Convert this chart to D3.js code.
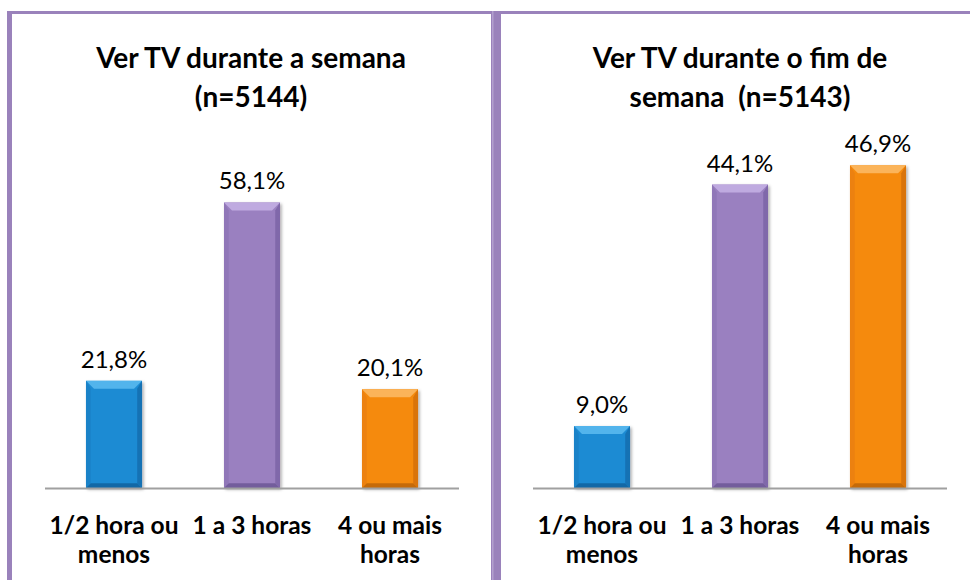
<!DOCTYPE html>
<html>
<head>
<meta charset="utf-8">
<script src="https://cdn.jsdelivr.net/npm/d3@7"></script>
<style>
  html, body { margin: 0; padding: 0; background: #ffffff; }
  svg { display: block; }
  text { white-space: pre; }
</style>
</head>
<body>
<svg id="chart" width="970" height="580"></svg>
<script>
// ---- data ----
const categories = ["1/2 hora ou menos", "1 a 3 horas", "4 ou mais horas"];
const categoryLines = [["1/2 hora ou", "menos"], ["1 a 3 horas"], ["4 ou mais", "horas"]];
const weekValues = [21.8, 58.1, 20.1];
const weekendValues = [9.0, 44.1, 46.9];
const weekTitle = ["Ver TV durante a semana", "(n=5144)"];
const weekendTitle = ["Ver TV durante o fim de", "semana  (n=5143)"];
const weekDomainMax = 70;
const weekendDomainMax = 50;

// ---- styles ----
const barColors = [
  { base: "#1b8bd3", top: "#52b4ec", left: "#1a82c8", right: "#1572b4", bottom: "#1268a6" },
  { base: "#9a80c0", top: "#bfaae0", left: "#9077b8", right: "#8068aa", bottom: "#735d9c" },
  { base: "#f58a10", top: "#fbb45a", left: "#ec8110", right: "#d9740b", bottom: "#c56a08" }
];
const borderColor = "#9a82bb";
const font = "Lato, 'Open Sans', sans-serif";

const svg = d3.select("#chart");

// drop shadow filter
const defs = svg.append("defs");
const f = defs.append("filter").attr("id", "shadow").attr("x", "-20%").attr("y", "-20%").attr("width", "140%").attr("height", "140%");
f.append("feDropShadow").attr("dx", 1.5).attr("dy", 1.5).attr("stdDeviation", 1.5).attr("flood-color", "#000").attr("flood-opacity", 0.35);

// ---- panel borders ----
const borders = svg.append("g");
borders.append("rect").attr("x", 7).attr("y", 11).attr("width", 963).attr("height", 3).attr("fill", borderColor);
borders.append("rect").attr("x", 7).attr("y", 11).attr("width", 5).attr("height", 569).attr("fill", borderColor);
borders.append("rect").attr("x", 491).attr("y", 11).attr("width", 10).attr("height", 569).attr("fill", borderColor);
borders.append("rect").attr("x", 492).attr("y", 11).attr("width", 1.5).attr("height", 569).attr("fill", "#b3a0cf");

const panels = [
  { title: weekTitle, values: weekValues, max: weekDomainMax, x0: 45, x1: 459, cx: 251 },
  { title: weekendTitle, values: weekendValues, max: weekendDomainMax, x0: 533, x1: 947, cx: 740 }
];

const plotBottom = 488, plotTop = 144;
const bevel = 8;

panels.forEach(p => {
  const g = svg.append("g");
  const x = d3.scaleBand().domain(categories).range([p.x0, p.x1]).paddingInner(0.594).paddingOuter(0.297);
  const y = d3.scaleLinear().domain([0, p.max]).range([plotBottom, plotTop]);

  // title
  g.selectAll("text.title").data(p.title).join("text")
    .attr("class", "title")
    .attr("x", p.cx)
    .attr("y", (d, i) => 68 + i * 39)
    .attr("text-anchor", "middle")
    .attr("font-family", font)
    .attr("font-weight", "bold")
    .attr("font-size", 28)
    .attr("fill", "#000")
    .text(d => d);

  // bars
  const data = categories.map((c, i) => ({ c, v: p.values[i], i }));
  const bars = g.selectAll("g.bar").data(data).join("g").attr("class", "bar");
  bars.each(function(d) {
    const b = d3.select(this);
    const xl = x(d.c), xr = x(d.c) + x.bandwidth();
    const yt = y(d.v), yb = y(0);
    const col = barColors[d.i];
    b.append("rect").attr("x", xl).attr("y", yt).attr("width", xr - xl).attr("height", yb - yt)
      .attr("fill", col.base).attr("filter", "url(#shadow)");
    const poly = pts => b.append("polygon").attr("points", pts.map(q => q.join(",")).join(" "));
    poly([[xl, yt], [xr, yt], [xr - bevel, yt + bevel], [xl + bevel, yt + bevel]]).attr("fill", col.top);
    poly([[xl, yt], [xl + bevel * 0.6, yt + bevel], [xl + bevel * 0.6, yb - bevel * 0.6], [xl, yb]]).attr("fill", col.left);
    poly([[xr, yt], [xr - bevel * 0.6, yt + bevel], [xr - bevel * 0.6, yb - bevel * 0.6], [xr, yb]]).attr("fill", col.right);
    poly([[xl, yb], [xl + bevel * 0.6, yb - bevel * 0.6], [xr - bevel * 0.6, yb - bevel * 0.6], [xr, yb]]).attr("fill", col.bottom);
  });

  // value labels
  g.selectAll("text.val").data(data).join("text")
    .attr("class", "val")
    .attr("x", d => x(d.c) + x.bandwidth() / 2)
    .attr("y", d => y(d.v) - 13)
    .attr("text-anchor", "middle")
    .attr("font-family", font)
    .attr("font-size", 24)
    .attr("fill", "#000")
    .text(d => d.v.toFixed(1).replace(".", ",") + "%");

  // axis line
  g.append("line").attr("x1", p.x0).attr("x2", p.x1).attr("y1", plotBottom + 0.5).attr("y2", plotBottom + 0.5)
    .attr("stroke", "#a0a0a0").attr("stroke-width", 2);

  // category labels
  const cl = g.selectAll("text.cat").data(data).join("text")
    .attr("class", "cat")
    .attr("x", d => x(d.c) + x.bandwidth() / 2)
    .attr("y", 534)
    .attr("text-anchor", "middle")
    .attr("font-family", font)
    .attr("font-weight", "bold")
    .attr("font-size", 24.5)
    .attr("fill", "#000");
  cl.selectAll("tspan").data(d => categoryLines[d.i]).join("tspan")
    .attr("x", function() { return d3.select(this.parentNode).attr("x"); })
    .attr("dy", (d, i) => i === 0 ? 0 : 29)
    .text(d => d);
});
</script>
</body>
</html>
